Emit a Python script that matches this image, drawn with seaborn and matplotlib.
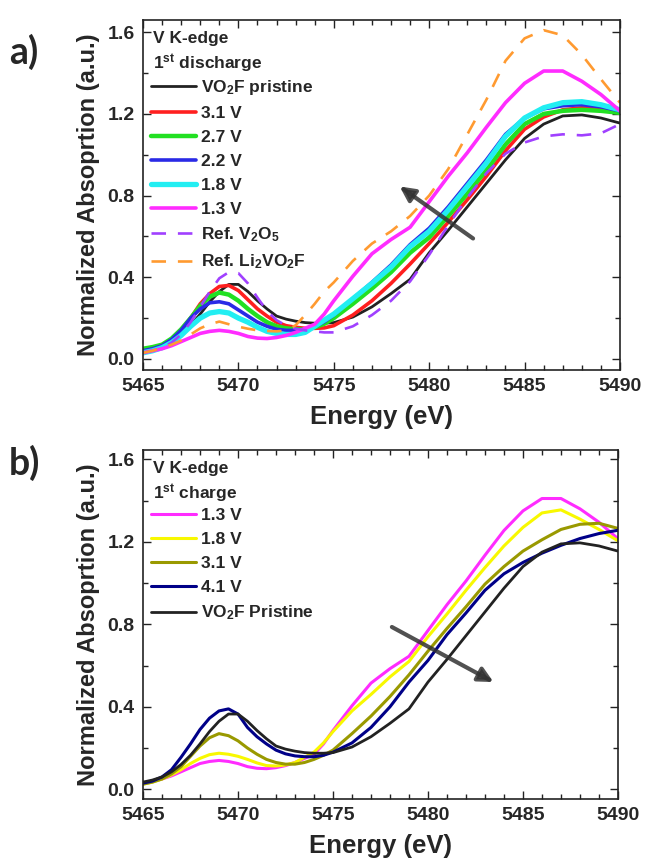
import numpy as np
import pandas as pd
import matplotlib
matplotlib.use("Agg")
import matplotlib.pyplot as plt
import seaborn as sns
from matplotlib.ticker import MultipleLocator

# ---------------- data ----------------
energy = [5465, 5465.5, 5466, 5466.5, 5467, 5467.5, 5468, 5468.5, 5469, 5469.5,
          5470, 5470.5, 5471, 5471.5, 5472, 5472.5, 5473, 5473.5, 5474, 5474.5,
          5475, 5476, 5477, 5478, 5479, 5480, 5481, 5482, 5483, 5484,
          5485, 5486, 5487, 5488, 5489, 5490]

pristine = [0.035, 0.045, 0.06, 0.085, 0.12, 0.165, 0.22, 0.28, 0.33, 0.365,
            0.365, 0.33, 0.285, 0.245, 0.21, 0.195, 0.185, 0.178, 0.175, 0.175,
            0.178, 0.205, 0.255, 0.32, 0.39, 0.52, 0.63, 0.745, 0.86, 0.975,
            1.08, 1.15, 1.19, 1.195, 1.18, 1.155]
v31 = [0.04, 0.05, 0.065, 0.095, 0.14, 0.2, 0.27, 0.32, 0.355, 0.36,
       0.335, 0.29, 0.245, 0.21, 0.18, 0.163, 0.155, 0.15, 0.15, 0.152,
       0.163, 0.215, 0.285, 0.37, 0.465, 0.565, 0.67, 0.78, 0.895, 1.02,
       1.125, 1.185, 1.22, 1.23, 1.225, 1.21]
v27 = [0.05, 0.058, 0.07, 0.1, 0.145, 0.2, 0.26, 0.305, 0.325, 0.315,
       0.285, 0.245, 0.21, 0.18, 0.16, 0.15, 0.145, 0.145, 0.155, 0.172,
       0.2, 0.27, 0.345, 0.425, 0.52, 0.595, 0.70, 0.81, 0.925, 1.05,
       1.15, 1.2, 1.215, 1.22, 1.215, 1.205]
v22 = [0.04, 0.05, 0.065, 0.095, 0.14, 0.2, 0.245, 0.275, 0.28, 0.27,
       0.24, 0.21, 0.18, 0.16, 0.145, 0.14, 0.14, 0.145, 0.158, 0.182,
       0.215, 0.295, 0.375, 0.46, 0.56, 0.64, 0.745, 0.86, 0.975, 1.1,
       1.18, 1.225, 1.24, 1.245, 1.235, 1.215]
v18 = [0.03, 0.04, 0.055, 0.08, 0.115, 0.16, 0.2, 0.225, 0.232, 0.225,
       0.2, 0.18, 0.155, 0.135, 0.125, 0.12, 0.12, 0.13, 0.16, 0.19,
       0.22, 0.295, 0.37, 0.45, 0.55, 0.625, 0.73, 0.845, 0.96, 1.09,
       1.18, 1.23, 1.255, 1.26, 1.245, 1.22]
v13 = [0.03, 0.04, 0.05, 0.065, 0.085, 0.105, 0.125, 0.135, 0.14, 0.135,
       0.125, 0.11, 0.102, 0.1, 0.105, 0.115, 0.13, 0.15, 0.17, 0.22,
       0.285, 0.405, 0.515, 0.585, 0.645, 0.77, 0.895, 1.01, 1.135, 1.255,
       1.35, 1.41, 1.41, 1.36, 1.295, 1.215]
ref_v2o5 = [0.03, 0.04, 0.055, 0.08, 0.12, 0.18, 0.255, 0.33, 0.395, 0.425,
            0.42, 0.37, 0.3, 0.235, 0.19, 0.163, 0.148, 0.14, 0.135, 0.13,
            0.13, 0.16, 0.215, 0.285, 0.38, 0.51, 0.655, 0.79, 0.91, 1.005,
            1.06, 1.09, 1.1, 1.095, 1.105, 1.15]
ref_li2vo2f = [0.03, 0.04, 0.055, 0.07, 0.09, 0.12, 0.15, 0.17, 0.183, 0.17,
               0.158, 0.148, 0.14, 0.137, 0.135, 0.14, 0.165, 0.215, 0.27, 0.33,
               0.375, 0.48, 0.565, 0.625, 0.70, 0.80, 0.93, 1.10, 1.27, 1.46,
               1.57, 1.61, 1.585, 1.49, 1.37, 1.255]
c18 = [0.025, 0.035, 0.05, 0.07, 0.095, 0.125, 0.15, 0.168, 0.175, 0.17,
       0.16, 0.145, 0.128, 0.115, 0.113, 0.118, 0.13, 0.155, 0.18, 0.225,
       0.28, 0.38, 0.46, 0.545, 0.62, 0.74, 0.85, 0.965, 1.075, 1.18,
       1.27, 1.34, 1.355, 1.31, 1.26, 1.205]
c31 = [0.025, 0.035, 0.05, 0.075, 0.11, 0.16, 0.21, 0.25, 0.27, 0.26,
       0.235, 0.2, 0.17, 0.145, 0.13, 0.122, 0.122, 0.13, 0.145, 0.165,
       0.19, 0.27, 0.355, 0.45, 0.555, 0.67, 0.78, 0.885, 0.995, 1.08,
       1.155, 1.21, 1.26, 1.285, 1.29, 1.265]
c41 = [0.03, 0.04, 0.06, 0.095, 0.155, 0.22, 0.29, 0.345, 0.38, 0.39,
       0.365, 0.30, 0.255, 0.22, 0.19, 0.172, 0.162, 0.158, 0.158, 0.165,
       0.18, 0.225, 0.30, 0.40, 0.52, 0.625, 0.75, 0.855, 0.965, 1.045,
       1.1, 1.145, 1.183, 1.216, 1.24, 1.256]

# arrows (data coordinates: tail, head)
arrow_a = [(5482.3, 0.59), (5478.45, 0.845)]
arrow_b = [(5478.1, 0.787), (5483.45, 0.52)]

series_a = [
    ("VO$_\\mathbf{2}$F pristine", pristine, "#222222", 2.0, "-"),
    ("3.1 V", v31, "#ff1f1f", 2.6, "-"),
    ("2.7 V", v27, "#22e022", 3.2, "-"),
    ("2.2 V", v22, "#2a2ae6", 2.6, "-"),
    ("1.8 V", v18, "#22eef2", 3.8, "-"),
    ("1.3 V", v13, "#ff2cff", 2.6, "-"),
    ("Ref. V$_\\mathbf{2}$O$_\\mathbf{5}$", ref_v2o5, "#a040ff", 1.9, "--"),
    ("Ref. Li$_\\mathbf{2}$VO$_\\mathbf{2}$F", ref_li2vo2f, "#ff9a30", 1.9, "--"),
]
series_b = [
    ("1.3 V", v13, "#ff2cff", 2.2, "-"),
    ("1.8 V", c18, "#f8f800", 2.2, "-"),
    ("3.1 V", c31, "#999900", 2.2, "-"),
    ("4.1 V", c41, "#000088", 2.2, "-"),
    ("VO$_\\mathbf{2}$F Pristine", pristine, "#222222", 2.0, "-"),
]

# ---------------- style ----------------
sns.set_theme(style="ticks")
plt.rcParams["font.family"] = ["Liberation Sans", "DejaVu Sans"]
plt.rcParams["font.weight"] = "bold"
plt.rcParams["mathtext.fontset"] = "custom"
plt.rcParams["mathtext.rm"] = "Liberation Sans:bold"
plt.rcParams["mathtext.bf"] = "Liberation Sans:bold"
plt.rcParams["mathtext.default"] = "bf"

LEG_FS = 12.5

fig = plt.figure(figsize=(6.45, 8.61), dpi=100)
fig.patch.set_facecolor("white")
ax_a = fig.add_axes([0.2217, 0.5703, 0.7395, 0.4065])
ax_b = fig.add_axes([0.2217, 0.0720, 0.7364, 0.4053])


def draw(ax, series, ylim, header, arrow):
    for label, vals, color, lw, ls in series:
        df = pd.DataFrame({"E": energy, "A": vals})
        sns.lineplot(data=df, x="E", y="A", ax=ax, color=color, lw=lw,
                     linestyle=ls, label=label, estimator=None, sort=False,
                     dashes=False)
        line = ax.lines[-1]
        if ls == "--":
            line.set_dashes((5.5, 4.5))
    ax.set_xlim(5465, 5490)
    ax.set_ylim(*ylim)
    ax.xaxis.set_major_locator(MultipleLocator(5))
    ax.xaxis.set_minor_locator(MultipleLocator(1))
    ax.yaxis.set_major_locator(MultipleLocator(0.4))
    ax.yaxis.set_minor_locator(MultipleLocator(0.2))
    ax.yaxis.set_major_formatter(matplotlib.ticker.FormatStrFormatter("%.1f"))
    ax.tick_params(which="both", direction="in", top=True, right=True,
                   width=1.0, color="#222222")
    ax.tick_params(which="major", length=6, labelsize=14, pad=6)
    ax.tick_params(which="minor", length=3.5)
    for lab in ax.get_xticklabels() + ax.get_yticklabels():
        lab.set_fontweight("bold")
    for sp in ax.spines.values():
        sp.set_linewidth(1.2)
        sp.set_color("#222222")
    ax.set_xlabel("Energy (eV)", fontsize=18.5, fontweight="bold", labelpad=7)
    ax.set_ylabel("Normalized Absoprtion (a.u.)", fontsize=17,
                  fontweight="bold", labelpad=5)
    ax.text(0.021, 0.948, "V K-edge", transform=ax.transAxes, fontsize=LEG_FS,
            fontweight="bold", va="center", ha="left")
    ax.text(0.021, 0.875, header, transform=ax.transAxes, fontsize=LEG_FS,
            fontweight="bold", va="center", ha="left")
    leg = ax.legend(loc="upper left", bbox_to_anchor=(0.016, 0.833),
                    frameon=False, fontsize=LEG_FS, handlelength=2.6,
                    handletextpad=0.3, labelspacing=0.5, borderpad=0,
                    borderaxespad=0)
    for t in leg.get_texts():
        t.set_fontweight("bold")
    (x0, y0), (x1, y1) = arrow
    ax.annotate("", xy=(x1, y1), xytext=(x0, y0),
                arrowprops=dict(arrowstyle="-|>", color="#333333", lw=3,
                                mutation_scale=22, alpha=0.85,
                                shrinkA=0, shrinkB=0))


draw(ax_a, series_a, (-0.054, 1.66), "1$^{\\mathbf{st}}$ discharge", arrow_a)
draw(ax_b, series_b, (-0.047, 1.645), "1$^{\\mathbf{st}}$ charge", arrow_b)

fig.text(0.014, 0.94, "a)", fontsize=27, fontweight="bold",
         family=["Lato", "DejaVu Sans"], va="center", ha="left")
fig.text(0.014, 0.462, "b)", fontsize=27, fontweight="bold",
         family=["Lato", "DejaVu Sans"], va="center", ha="left")

fig.savefig("out.png", dpi=100, facecolor="white")
